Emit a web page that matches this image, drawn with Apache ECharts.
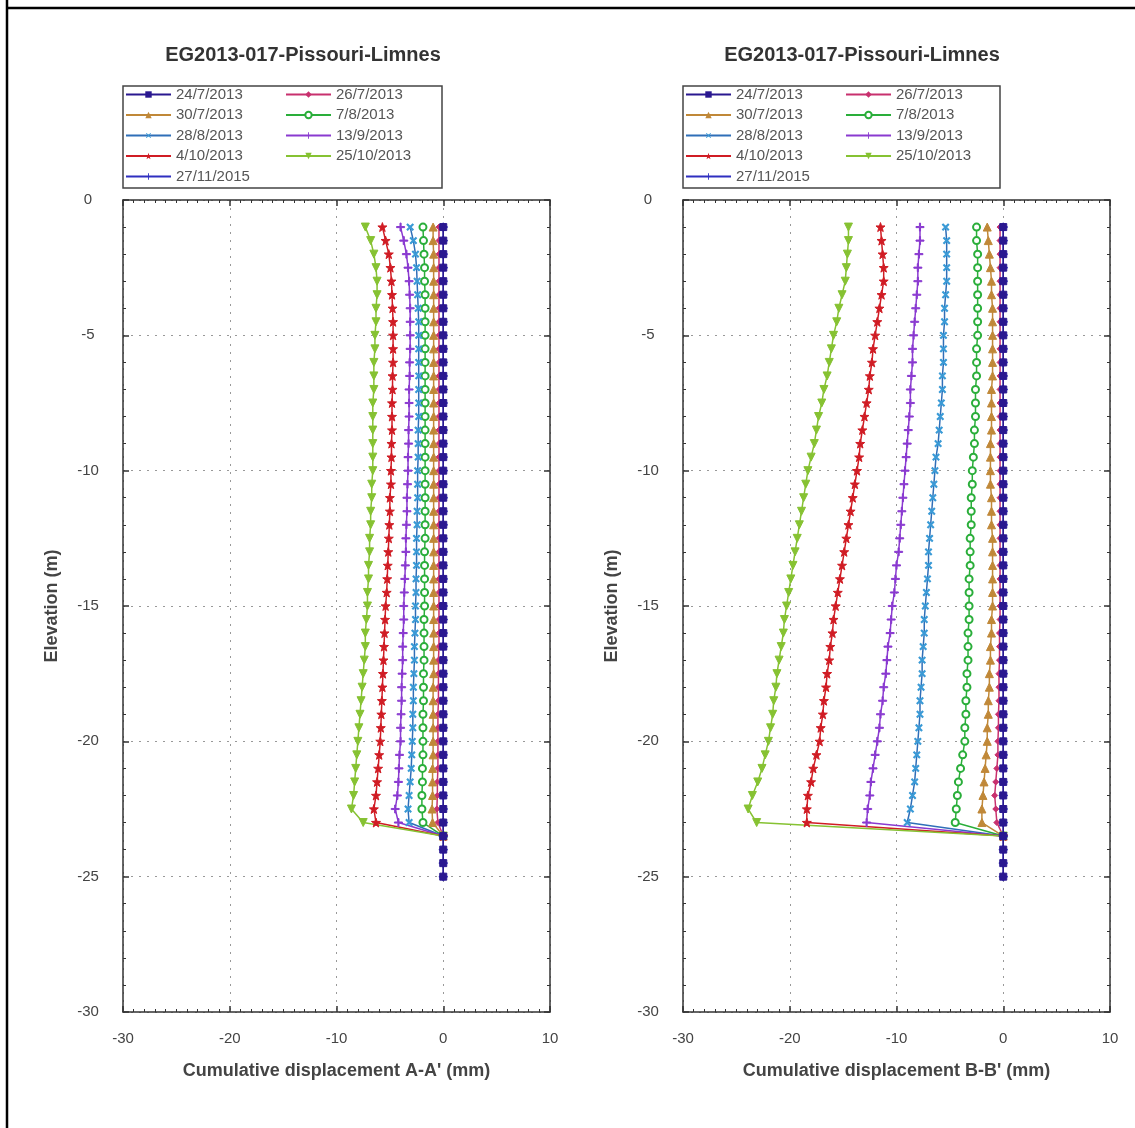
<!DOCTYPE html>
<html>
<head>
<meta charset="utf-8">
<script src="https://cdn.jsdelivr.net/npm/echarts@6/dist/echarts.min.js"></script>
<style>
html,body{margin:0;padding:0;background:#fff;}
#main{width:1135px;height:1128px;}
</style>
</head>
<body>
<div id="main"></div>
<script>
// ---------- DATA ----------
const TITLE = 'EG2013-017-Pissouri-Limnes';
const X_NAMES = ["Cumulative displacement A-A' (mm)", "Cumulative displacement B-B' (mm)"];
const Y_NAME = 'Elevation (m)';
const SERIES_NAMES = ['24/7/2013','26/7/2013','30/7/2013','7/8/2013','28/8/2013','13/9/2013','4/10/2013','25/10/2013','27/11/2015'];
const LEGEND_COL1 = ['24/7/2013','30/7/2013','28/8/2013','4/10/2013','27/11/2015'];
const LEGEND_COL2 = ['26/7/2013','7/8/2013','13/9/2013','25/10/2013'];

// elevations of the displaced profiles (m)
const DEPTH = [-1,-1.5,-2,-2.5,-3,-3.5,-4,-4.5,-5,
  -5.5,-6,-6.5,-7,-7.5,-8,-8.5,-9,-9.5,-10,
  -10.5,-11,-11.5,-12,-12.5,-13,-13.5,-14,-14.5,-15,
  -15.5,-16,-16.5,-17,-17.5,-18,-18.5,-19,-19.5,-20,
  -20.5,-21,-21.5,-22,-22.5,-23,-23.5];
// elevations of the reference profiles (m)
const DEPTH_FULL = [-1,-1.5,-2,-2.5,-3,-3.5,-4,-4.5,-5,
  -5.5,-6,-6.5,-7,-7.5,-8,-8.5,-9,-9.5,-10,
  -10.5,-11,-11.5,-12,-12.5,-13,-13.5,-14,-14.5,-15,
  -15.5,-16,-16.5,-17,-17.5,-18,-18.5,-19,-19.5,-20,
  -20.5,-21,-21.5,-22,-22.5,-23,-23.5,-24,-24.5,-25];

// ---- A-A' (mm) ----
const A_24_7 = [0,0,0,0,0,0,0,0,0, 0,0,0,0,0,0,0,0,0,0, 0,0,0,0,0,0,0,0,0,0, 0,0,0,0,0,0,0,0,0,0, 0,0,0,0,0,0,0,0,0,0];
const A_26_7 = [-0.4,-0.4,-0.4,-0.4,-0.4,-0.4,-0.4,-0.4,-0.4, -0.4,-0.4,-0.4,-0.4,-0.4,-0.4,-0.4,-0.4,-0.4,-0.4, -0.4,-0.4,-0.4,-0.4,-0.4,-0.4,-0.4,-0.4,-0.4,-0.4, -0.4,-0.4,-0.4,-0.45,-0.45,-0.45,-0.45,-0.5,-0.5,-0.5, -0.5,-0.5,-0.55,-0.55,-0.6,-0.5,0];
const A_30_7 = [-0.95,-0.95,-0.9,-0.9,-0.9,-0.9,-0.9,-0.9,-0.9, -0.9,-0.9,-0.9,-0.9,-0.9,-0.9,-0.9,-0.9,-0.9,-0.9, -0.9,-0.9,-0.9,-0.9,-0.9,-0.9,-0.9,-0.9,-0.9,-0.9, -0.9,-0.9,-0.9,-0.9,-0.9,-0.95,-0.95,-0.95,-0.95,-0.95, -0.95,-1.0,-1.0,-1.0,-1.05,-1.0,0];
const A_7_8 = [-1.9,-1.85,-1.8,-1.75,-1.75,-1.7,-1.7,-1.7,-1.7, -1.7,-1.7,-1.7,-1.7,-1.7,-1.7,-1.7,-1.7,-1.7,-1.7, -1.7,-1.7,-1.7,-1.7,-1.7,-1.75,-1.75,-1.75,-1.75,-1.75, -1.8,-1.8,-1.8,-1.8,-1.85,-1.85,-1.85,-1.9,-1.9,-1.9, -1.9,-1.95,-1.95,-2.0,-2.0,-1.9,0];
const A_28_8 = [-3.1,-2.8,-2.6,-2.5,-2.45,-2.4,-2.35,-2.3,-2.3, -2.3,-2.3,-2.3,-2.3,-2.3,-2.3,-2.35,-2.35,-2.35,-2.4, -2.4,-2.4,-2.45,-2.45,-2.5,-2.5,-2.5,-2.55,-2.55,-2.6, -2.6,-2.65,-2.7,-2.7,-2.75,-2.8,-2.8,-2.85,-2.85,-2.9, -2.95,-3.0,-3.1,-3.2,-3.3,-3.2,0];
const A_13_9 = [-4.0,-3.7,-3.45,-3.3,-3.2,-3.15,-3.1,-3.1,-3.1, -3.1,-3.15,-3.15,-3.2,-3.2,-3.2,-3.25,-3.25,-3.3,-3.3, -3.35,-3.4,-3.4,-3.45,-3.5,-3.5,-3.55,-3.6,-3.65,-3.7, -3.7,-3.75,-3.8,-3.8,-3.85,-3.9,-3.9,-3.95,-4.0,-4.0, -4.1,-4.15,-4.2,-4.3,-4.5,-4.2,0];
const A_4_10 = [-5.7,-5.4,-5.1,-4.95,-4.85,-4.8,-4.75,-4.7,-4.7, -4.7,-4.7,-4.75,-4.75,-4.8,-4.8,-4.8,-4.85,-4.85,-4.9, -4.9,-5.0,-5.0,-5.05,-5.1,-5.15,-5.2,-5.25,-5.3,-5.4, -5.45,-5.5,-5.55,-5.6,-5.65,-5.7,-5.75,-5.8,-5.85,-5.9, -6.0,-6.1,-6.2,-6.3,-6.5,-6.3,0];
const A_25_10 = [-7.3,-6.8,-6.5,-6.3,-6.2,-6.2,-6.3,-6.3,-6.4, -6.4,-6.5,-6.5,-6.5,-6.6,-6.6,-6.6,-6.6,-6.6,-6.6, -6.7,-6.7,-6.8,-6.8,-6.9,-6.9,-7.0,-7.0,-7.1,-7.1, -7.2,-7.3,-7.3,-7.4,-7.5,-7.6,-7.7,-7.8,-7.9,-8.0, -8.1,-8.2,-8.3,-8.4,-8.6,-7.5,0];
const A_27_11 = [0,0,0,0,0,0,0,0,0, 0,0,0,0,0,0,0,0,0,0, 0,0,0,0,0,0,0,0,0,0, 0,0,0,0,0,0,0,0,0,0, 0,0,0,0,0,0,0,0,0,0];

// ---- B-B' (mm) ----
const B_24_7 = [0,0,0,0,0,0,0,0,0, 0,0,0,0,0,0,0,0,0,0, 0,0,0,0,0,0,0,0,0,0, 0,0,0,0,0,0,0,0,0,0, 0,0,0,0,0,0,0,0,0,0];
const B_26_7 = [-0.3,-0.3,-0.3,-0.3,-0.3,-0.3,-0.3,-0.3,-0.3, -0.3,-0.3,-0.3,-0.3,-0.3,-0.3,-0.3,-0.3,-0.3,-0.3, -0.3,-0.3,-0.3,-0.3,-0.3,-0.3,-0.3,-0.3,-0.3,-0.3, -0.3,-0.35,-0.35,-0.35,-0.4,-0.4,-0.4,-0.45,-0.45,-0.5, -0.5,-0.6,-0.7,-0.8,-0.7,-0.6,0];
const B_30_7 = [-1.5,-1.4,-1.3,-1.2,-1.1,-1.1,-1.0,-1.0,-1.0, -1.0,-1.0,-1.0,-1.1,-1.1,-1.1,-1.1,-1.2,-1.2,-1.2, -1.2,-1.1,-1.1,-1.1,-1.0,-1.0,-1.0,-1.0,-1.0,-1.0, -1.1,-1.1,-1.2,-1.2,-1.3,-1.3,-1.4,-1.4,-1.5,-1.5, -1.6,-1.7,-1.8,-1.9,-2.0,-2.0,0];
const B_7_8 = [-2.5,-2.5,-2.4,-2.4,-2.4,-2.4,-2.4,-2.4,-2.4, -2.5,-2.5,-2.5,-2.6,-2.6,-2.6,-2.7,-2.7,-2.8,-2.9, -2.9,-3.0,-3.0,-3.0,-3.1,-3.1,-3.1,-3.2,-3.2,-3.2, -3.2,-3.3,-3.3,-3.3,-3.4,-3.4,-3.5,-3.5,-3.6,-3.6, -3.8,-4.0,-4.2,-4.3,-4.4,-4.5,0];
const B_28_8 = [-5.4,-5.3,-5.3,-5.3,-5.3,-5.4,-5.5,-5.5,-5.6, -5.6,-5.6,-5.7,-5.7,-5.8,-5.9,-6.0,-6.1,-6.3,-6.4, -6.5,-6.6,-6.7,-6.8,-6.9,-7.0,-7.0,-7.1,-7.2,-7.3, -7.4,-7.4,-7.5,-7.6,-7.6,-7.7,-7.8,-7.8,-7.9,-8.0, -8.1,-8.2,-8.3,-8.5,-8.7,-9.0,0];
const B_13_9 = [-7.8,-7.8,-7.9,-8.0,-8.0,-8.1,-8.2,-8.3,-8.4, -8.5,-8.5,-8.6,-8.7,-8.7,-8.8,-8.9,-9.0,-9.1,-9.2, -9.3,-9.4,-9.5,-9.6,-9.7,-9.8,-10.0,-10.1,-10.2,-10.4, -10.5,-10.6,-10.8,-10.9,-11.0,-11.2,-11.3,-11.5,-11.6,-11.8, -12.0,-12.2,-12.4,-12.5,-12.7,-12.8,0];
const B_4_10 = [-11.5,-11.4,-11.3,-11.2,-11.2,-11.4,-11.6,-11.8,-12.0, -12.2,-12.3,-12.5,-12.6,-12.8,-13.0,-13.2,-13.4,-13.5,-13.7, -13.9,-14.1,-14.3,-14.5,-14.7,-14.9,-15.1,-15.3,-15.5,-15.7, -15.9,-16.0,-16.2,-16.3,-16.5,-16.6,-16.8,-16.9,-17.1,-17.2, -17.5,-17.8,-18.0,-18.3,-18.4,-18.4,0];
const B_25_10 = [-14.5,-14.5,-14.6,-14.7,-14.8,-15.1,-15.4,-15.6,-15.9, -16.1,-16.3,-16.5,-16.8,-17.0,-17.3,-17.5,-17.7,-18.0,-18.3, -18.5,-18.7,-18.9,-19.1,-19.3,-19.5,-19.7,-19.9,-20.1,-20.3, -20.5,-20.6,-20.8,-21.0,-21.2,-21.3,-21.5,-21.6,-21.8,-22.0, -22.3,-22.6,-23.0,-23.5,-23.9,-23.1,0];
const B_27_11 = [0,0,0,0,0,0,0,0,0, 0,0,0,0,0,0,0,0,0,0, 0,0,0,0,0,0,0,0,0,0, 0,0,0,0,0,0,0,0,0,0, 0,0,0,0,0,0,0,0,0,0];

const X_TICKS = [-30,-20,-10,0,10];
const Y_TICKS = [-30,-25,-20,-15,-10,-5,0];

// ---------- STYLE ----------
const FONT = '"Liberation Sans", Arial, sans-serif';
const PLUS = 'path://M4.3,0H5.7V4.3H10V5.7H5.7V10H4.3V5.7H0V4.3H4.3Z';
const STAR = 'path://M5,0L6.2,3.5L10,3.6L7,5.9L8.1,9.5L5,7.4L1.9,9.5L3,5.9L0,3.6L3.8,3.5Z';
const STYLES = {
  '24/7/2013': {color:'#2a1890', symbol:'rect', size:7, full:true, z:5},
  '26/7/2013': {color:'#c8306e', symbol:'diamond', size:6},
  '30/7/2013': {color:'#c08838', symbol:'triangle', size:8},
  '7/8/2013':  {color:'#2aae3a', symbol:'emptyCircle', size:7},
  '28/8/2013': {color:'#3a9ad6', symbol:PLUS, size:8, rotate:45, line:'#2f6fb8'},
  '13/9/2013': {color:'#8a3ad0', symbol:PLUS, size:8},
  '4/10/2013': {color:'#d01c24', symbol:STAR, size:9},
  '25/10/2013':{color:'#86c232', symbol:'triangle', size:8, rotate:180},
  '27/11/2015':{color:'#2f2fc0', symbol:PLUS, size:8, full:true}
};
const A_VALS = {'24/7/2013':A_24_7,'26/7/2013':A_26_7,'30/7/2013':A_30_7,'7/8/2013':A_7_8,'28/8/2013':A_28_8,'13/9/2013':A_13_9,'4/10/2013':A_4_10,'25/10/2013':A_25_10,'27/11/2015':A_27_11};
const B_VALS = {'24/7/2013':B_24_7,'26/7/2013':B_26_7,'30/7/2013':B_30_7,'7/8/2013':B_7_8,'28/8/2013':B_28_8,'13/9/2013':B_13_9,'4/10/2013':B_4_10,'25/10/2013':B_25_10,'27/11/2015':B_27_11};

const PANELS = [
  {left:123, vals:A_VALS, xname:X_NAMES[0], legendX:125, boxX:123, boxW:319, titleX:303},
  {left:683, vals:B_VALS, xname:X_NAMES[1], legendX:685, boxX:683, boxW:317, titleX:862}
];
const GRID_W = 427, GRID_TOP = 200, GRID_H = 812;

const grid = [], xAxis = [], yAxis = [], series = [], legend = [], graphic = [];

const axisLineStyle = {color:'#333', width:1.5};
const labelStyle = {color:'#444', fontSize:15, fontFamily:FONT};

PANELS.forEach((p, gi) => {
  grid.push({left:p.left, top:GRID_TOP, width:GRID_W, height:GRID_H});
  // bottom x axis
  xAxis.push({
    type:'value', gridIndex:gi, position:'bottom', min:X_TICKS[0], max:X_TICKS[X_TICKS.length-1], interval:10,
    name:p.xname, nameLocation:'middle', nameGap:50,
    nameTextStyle:{fontSize:18, fontWeight:'bold', color:'#444', fontFamily:FONT},
    axisLine:{show:true, onZero:false, lineStyle:axisLineStyle},
    axisTick:{show:true, inside:true, length:6, lineStyle:axisLineStyle},
    minorTick:{show:true, splitNumber:10, length:3, lineStyle:{color:'#333', width:1}},
    axisLabel:Object.assign({margin:19}, labelStyle),
    splitLine:{show:true, lineStyle:{color:'#999', type:[2,6], width:1}}
  });
  // top x axis (frame)
  xAxis.push({
    type:'value', gridIndex:gi, position:'top', min:X_TICKS[0], max:X_TICKS[X_TICKS.length-1], interval:10,
    axisLine:{show:true, onZero:false, lineStyle:axisLineStyle},
    axisTick:{show:true, inside:true, length:6, lineStyle:axisLineStyle},
    minorTick:{show:true, splitNumber:10, length:3, lineStyle:{color:'#333', width:1}},
    axisLabel:{show:false}, splitLine:{show:false}
  });
  // left y axis
  yAxis.push({
    type:'value', gridIndex:gi, position:'left', min:Y_TICKS[0], max:Y_TICKS[Y_TICKS.length-1], interval:5,
    name:Y_NAME, nameLocation:'middle', nameGap:62, nameRotate:90,
    nameTextStyle:{fontSize:18, fontWeight:'bold', color:'#444', fontFamily:FONT},
    axisLine:{show:true, onZero:false, lineStyle:axisLineStyle},
    axisTick:{show:true, inside:true, length:6, lineStyle:axisLineStyle},
    minorTick:{show:true, splitNumber:5, length:3, lineStyle:{color:'#333', width:1}},
    axisLabel:Object.assign({margin:35, align:'center'}, labelStyle),
    splitLine:{show:true, lineStyle:{color:'#999', type:[2,6], width:1}}
  });
  // right y axis (frame)
  yAxis.push({
    type:'value', gridIndex:gi, position:'right', min:Y_TICKS[0], max:Y_TICKS[Y_TICKS.length-1], interval:5,
    axisLine:{show:true, onZero:false, lineStyle:axisLineStyle},
    axisTick:{show:true, inside:true, length:6, lineStyle:axisLineStyle},
    minorTick:{show:true, splitNumber:5, length:3, lineStyle:{color:'#333', width:1}},
    axisLabel:{show:false}, splitLine:{show:false}
  });

  SERIES_NAMES.forEach(name => {
    const st = STYLES[name];
    const vals = p.vals[name];
    const depths = st.full ? DEPTH_FULL : DEPTH;
    series.push({
      type:'line', name:name, xAxisIndex:gi*2, yAxisIndex:gi*2,
      data: depths.map((d, i) => [vals[i], d]),
      symbol:st.symbol, symbolSize:st.size, symbolRotate:st.rotate || 0,
      showAllSymbol:true, z: st.z || 2, animation:false,
      itemStyle:{color:st.color, borderColor:st.color},
      lineStyle:{color:st.line || st.color, width:1.5},
      emphasis:{disabled:true}
    });
  });

  const legendBase = {
    orient:'vertical', top:87, itemGap:5.5, itemWidth:45, itemHeight:8,
    textStyle:{fontSize:15, color:'#555', fontFamily:FONT, lineHeight:15},
    selectedMode:false, padding:0
  };
  legend.push(Object.assign({}, legendBase, {left:p.legendX, data:LEGEND_COL1}));
  legend.push(Object.assign({}, legendBase, {left:p.legendX + 160, data:LEGEND_COL2}));

  graphic.push({type:'rect', shape:{x:p.boxX, y:86, width:p.boxW, height:102}, style:{fill:null, stroke:'#444', lineWidth:1.5}, z:-1});
  graphic.push({type:'text', x:p.titleX, y:55, style:{text:TITLE, font:'bold 20px ' + FONT, fill:'#333', textAlign:'center', textVerticalAlign:'middle'}});
});

// outer frame
graphic.push({type:'line', shape:{x1:7, y1:0, x2:7, y2:1128}, style:{stroke:'#000', lineWidth:2.5}});
graphic.push({type:'line', shape:{x1:7, y1:8, x2:1135, y2:8}, style:{stroke:'#000', lineWidth:2.5}});

const chart = echarts.init(document.getElementById('main'), null, {renderer:'canvas'});
chart.setOption({
  backgroundColor:'#fff', animation:false,
  grid, xAxis, yAxis, series, legend, graphic
});
</script>
</body>
</html>
